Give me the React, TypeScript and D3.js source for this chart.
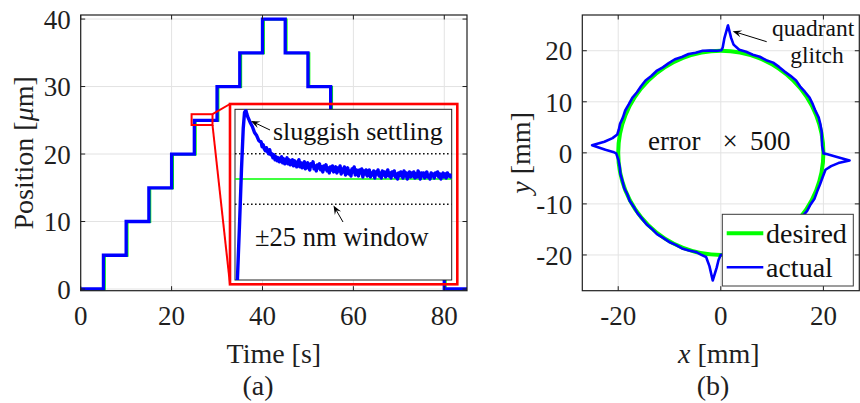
import React from "react";
import * as d3 from "d3";

// ---------- data: panel (a) ----------
const stepTimes = [0, 5, 10, 15, 20, 25, 30, 35, 40, 45, 50, 55, 60, 65, 70, 75, 80, 85];
const stepValues = [0, 5, 10, 15, 20, 25, 30, 35, 40, 35, 30, 25, 20, 15, 10, 5, 0, 0];
const xTicksA = [0, 20, 40, 60, 80];
const yTicksA = [0, 10, 20, 30, 40];
const zoomT = [24.4, 29.0];
const zoomY = [24.3, 25.9];

// inset: time (arb. units) and deviation from the 25 um set-point [nm]
const riseT = [1.1, 2.0, 3.0, 3.8, 4.4, 5.0, 5.5, 6, 7, 8, 9, 10, 11, 11.5];
const riseNm = [-100, -50, 10, 50, 66, 68, 64, 61, 56, 52, 46, 43, 38, 37];
// settling samples every 0.5 from t = 12 to t = 100
const settleStart = 12;
const settleStep = 0.5;
const settleNm = [
  37, 32, 34, 30, 28, 31, 27, 25, 29, 24,
  25, 21, 24, 19, 22, 18, 21, 17, 20, 22,
  16, 20, 15, 18, 21, 15, 19, 14, 17, 19,
  13, 18, 15, 12, 17, 19, 12, 16, 11, 15,
  17, 10, 14, 16, 11, 9, 15, 13, 17, 10,
  13, 8, 14, 11, 15, 9, 12, 7, 13, 10,
  14, 8, 11, 6, 12, 9, 13, 7, 10, 12,
  6, 11, 8, 13, 5, 10, 7, 12, 4, 9,
  11, 5, 8, 3, 10, 7, 12, 4, 9, 6,
  3, 9, 6, 10, 2, 8, 5, 9, 3, 7,
  9, 2, 6, 4, 8, 1, 7, 5, 9, 3,
  6, 1, 8, 4, 7, 2, 5, 9, 3, 6,
  1, 7, 4, 8, 2, 5, 0, 6, 3, 7,
  5, 1, 8, 3, 6, 0, 4, 7, 2, 6,
  3, 7, 1, 5, 2, 8, 4, 0, 6, 3,
  6, 1, 5, 7, 2, 4, 0, 6, 3, 5,
  1, 6, 4, 7, 2, 5, 0, 4, 6, 2,
  5, 1, 6, 3, 4, 2, 5,
];
const insetTDomain = [0, 100];
const insetNmDomain = [-100, 69];
const windowNm = [-25, 25];

// ---------- data: panel (b) ----------
const circleRadius = 20;
const actualAngles = [
  0.3, 4, 8, 12, 16, 20, 24, 28, 32, 36, 40, 44, 48, 52, 56, 60, 64, 68, 72, 76,
  79.9, 83.3, 84.9, 86.8, 88.2, 89.0, 89.7,
  92, 96, 100, 104, 108, 112, 116, 120, 124, 128, 132, 136, 140, 144, 148, 152, 156, 160, 164, 167,
  169.9, 172.2, 174.5, 176.6, 178.5, 179.5, 180.3,
  184, 188, 192, 196, 200, 204, 208, 212, 216, 220, 224, 228, 232, 236, 240, 244, 248, 252, 256,
  259, 262, 264.3, 266.4, 267.96, 268.8, 270,
  274, 278, 282, 286, 290, 294, 298, 302, 306, 310, 314, 318, 322, 326, 330, 334, 338, 342, 346,
  350.8, 353.1, 355.0, 356.6, 358.0, 359.2, 359.7, 360.3,
];
const actualRadii = [
  20.0, 19.8, 19.9, 20.1, 20.2, 20.3, 20.2, 20.3, 20.4, 20.3, 20.2, 20.4, 20.3, 20.2, 20.3, 20.4, 20.2, 20.3, 20.2, 20.4,
  20.5, 21.35, 22.6, 25.0, 22.5, 20.6, 20.1,
  20.0, 20.15, 20.3, 20.2, 20.35, 20.25, 20.4, 20.3, 20.2, 20.35, 20.25, 20.4, 20.3, 20.2, 20.35, 20.3, 20.4, 20.3, 20.45, 20.4,
  20.5, 21.3, 22.8, 25.14, 22.5, 21.0, 20.4,
  20.0, 19.9, 20.0, 19.95, 20.05, 19.95, 20.1, 20.0, 20.1, 20.05, 20.15, 20.05, 20.2, 20.1, 20.15, 20.05, 20.2, 20.1, 20.0,
  20.3, 20.6, 22.3, 25.05, 22.5, 21.0, 19.95,
  20.0, 20.1, 20.0, 20.15, 20.05, 20.2, 20.1, 20.2, 20.1, 20.25, 20.15, 20.3, 20.2, 20.3, 20.2, 20.35, 20.25, 20.3, 20.4,
  20.67, 21.66, 23.0, 25.15, 22.5, 20.8, 20.0, 20.0,
];
const xTicksB = [-20, 0, 20];
const xTickLabelsB = ["-20", "0", "20"];
const yTicksB = [-20, -10, 0, 10, 20];
const yTickLabelsB = ["-20", "-10", "0", "10", "20"];

// ---------- layout ----------
const W = 860, H = 403;
const FONT = "'Liberation Serif', 'Times New Roman', serif";
const TXT = "#1f1f1f";
const GRID = "#e3e3e3";
const A = { l: 80.7, r: 467, t: 15, b: 290.7 };
const B = { l: 582.3, r: 859.3, t: 15, b: 290.7 };
const INSET = { l: 235, r: 451.7, t: 109.3, b: 280 };
const REDBOX = { l: 230, r: 457.3, t: 104, b: 284.3 };

function Arrow({ x1, y1, x2, y2 }: { x1: number; y1: number; x2: number; y2: number }) {
  const ang = Math.atan2(y2 - y1, x2 - x1);
  const L = 9, hw = 3.6;
  const bx = x2 - L * Math.cos(ang), by = y2 - L * Math.sin(ang);
  const px = -Math.sin(ang) * hw, py = Math.cos(ang) * hw;
  const mx = x2 - 0.6 * L * Math.cos(ang), my = y2 - 0.6 * L * Math.sin(ang);
  return (
    <g>
      <line x1={x1} y1={y1} x2={mx} y2={my} stroke="#000" strokeWidth={1} />
      <path d={`M${x2},${y2} L${bx + px},${by + py} L${mx},${my} L${bx - px},${by - py} Z`} fill="#000" />
    </g>
  );
}

function Frame({ box, xs, ys, xTicks, yTicks, xLabels, yLabels }: any) {
  const tl = 4.5;
  return (
    <g>
      {xTicks.map((v: number, i: number) => (
        <g key={"x" + i}>
          <line x1={xs(v)} x2={xs(v)} y1={box.b} y2={box.b - tl} stroke={TXT} strokeWidth={1} />
          <line x1={xs(v)} x2={xs(v)} y1={box.t} y2={box.t + tl} stroke={TXT} strokeWidth={1} />
          <text x={xs(v)} y={box.b + 34.3} textAnchor="middle" fontSize={27} fill={TXT} fontFamily={FONT}>
            {xLabels[i]}
          </text>
        </g>
      ))}
      {yTicks.map((v: number, i: number) => (
        <g key={"y" + i}>
          <line x1={box.l} x2={box.l + tl} y1={ys(v)} y2={ys(v)} stroke={TXT} strokeWidth={1} />
          <line x1={box.r} x2={box.r - tl} y1={ys(v)} y2={ys(v)} stroke={TXT} strokeWidth={1} />
          <text x={box.l - 10} y={ys(v)} dy="0.36em" textAnchor="end" fontSize={27} fill={TXT} fontFamily={FONT}>
            {yLabels[i]}
          </text>
        </g>
      ))}
      <rect x={box.l} y={box.t} width={box.r - box.l} height={box.b - box.t} fill="none" stroke={TXT} strokeWidth={1.2} />
    </g>
  );
}

export default function App() {
  // panel (a)
  const xa = d3.scaleLinear().domain([0, 85]).range([A.l, A.r]);
  const ya = d3.scaleLinear().domain([-0.25, 40.6]).range([A.b, A.t]);
  const stepPath =
    d3
      .line<number>()
      .x((_, i) => xa(stepTimes[i]))
      .y((d) => ya(d))
      .curve(d3.curveStepAfter)(stepValues) || "";

  const xi = d3.scaleLinear().domain(insetTDomain).range([INSET.l, INSET.r]);
  const yi = d3.scaleLinear().domain(insetNmDomain).range([INSET.b, INSET.t]);
  const insetPts: [number, number][] = [
    ...riseT.map((t, i) => [t, riseNm[i]] as [number, number]),
    ...settleNm.map((v, i) => [settleStart + i * settleStep, v] as [number, number]),
  ];
  const insetPath =
    d3
      .line<[number, number]>()
      .x((d) => xi(d[0]))
      .y((d) => yi(d[1]))(insetPts) || "";

  const zx0 = xa(zoomT[0]), zx1 = xa(zoomT[1]);
  const zy0 = ya(zoomY[1]), zy1 = ya(zoomY[0]);

  // panel (b)
  const xb = d3.scaleLinear().domain([-27, 27]).range([B.l, B.r]);
  const yb = d3.scaleLinear().domain([-27, 27]).range([B.b, B.t]);
  const actualPath =
    d3
      .line<number>()
      .x((r, i) => xb(r * Math.cos((actualAngles[i] * Math.PI) / 180)))
      .y((r, i) => yb(r * Math.sin((actualAngles[i] * Math.PI) / 180)))
      .curve(d3.curveLinearClosed)(actualRadii) || "";

  return (
    <svg width={W} height={H} style={{ position: "absolute", left: 0, top: 0, background: "#fff" }} fontFamily={FONT}>
      <defs>
        <clipPath id="clipA">
          <rect x={A.l} y={A.t} width={A.r - A.l} height={A.b - A.t} />
        </clipPath>
        <clipPath id="clipI">
          <rect x={INSET.l} y={INSET.t} width={INSET.r - INSET.l} height={INSET.b - INSET.t} />
        </clipPath>
        <clipPath id="clipB">
          <rect x={B.l} y={B.t} width={B.r - B.l} height={B.b - B.t} />
        </clipPath>
      </defs>
      <rect x={0} y={0} width={W} height={H} fill="#fff" />

      {/* ===== panel (a) ===== */}
      <g>
        {xTicksA.map((v) => (
          <line key={"gx" + v} x1={xa(v)} x2={xa(v)} y1={A.t} y2={A.b} stroke={GRID} strokeWidth={1} />
        ))}
        {yTicksA.map((v) => (
          <line key={"gy" + v} x1={A.l} x2={A.r} y1={ya(v)} y2={ya(v)} stroke={GRID} strokeWidth={1} />
        ))}
        <g clipPath="url(#clipA)">
          <path d={stepPath} fill="none" stroke="#00ff00" strokeWidth={2} transform="translate(1.4,0.4)" />
          <path d={stepPath} fill="none" stroke="#0000ff" strokeWidth={3.3} />
        </g>
        {/* zoom indicator */}
        <rect x={zx0} y={zy0} width={zx1 - zx0} height={zy1 - zy0} fill="none" stroke="#ff0000" strokeWidth={2} />
        <line x1={zx1} y1={zy0} x2={REDBOX.l} y2={REDBOX.t} stroke="#ff0000" strokeWidth={2} />
        <line x1={zx1} y1={zy1} x2={REDBOX.l} y2={REDBOX.b} stroke="#ff0000" strokeWidth={2} />
        <rect x={REDBOX.l} y={REDBOX.t} width={REDBOX.r - REDBOX.l} height={REDBOX.b - REDBOX.t} fill="none" stroke="#ff0000" strokeWidth={2.6} />
        {/* inset axes */}
        <rect x={INSET.l} y={INSET.t} width={INSET.r - INSET.l} height={INSET.b - INSET.t} fill="#fff" stroke="#222" strokeWidth={1} />
        <g clipPath="url(#clipI)">
          {windowNm.map((v) => (
            <line key={"w" + v} x1={INSET.l} x2={INSET.r} y1={yi(v)} y2={yi(v)} stroke="#111" strokeWidth={1.6} strokeDasharray="1.6,2.4" />
          ))}
          <line x1={INSET.l} x2={INSET.r} y1={yi(0)} y2={yi(0)} stroke="#00ff00" strokeWidth={1.3} />
          <path d={insetPath} fill="none" stroke="#0000ff" strokeWidth={3.4} strokeLinejoin="round" />
        </g>
        <text x={273} y={139.5} fontSize={26} fill="#111">sluggish settling</text>
        <Arrow x1={270} y1={130} x2={251} y2={121} />
        <text x={255} y={246} fontSize={26.5} fill="#111">±25 nm window</text>
        <Arrow x1={343} y1={222} x2={333.5} y2={205.5} />

        <Frame
          box={A}
          xs={xa}
          ys={ya}
          xTicks={xTicksA}
          yTicks={yTicksA}
          xLabels={xTicksA.map(String)}
          yLabels={yTicksA.map(String)}
        />
        <text transform={`translate(33,${(A.t + A.b) / 2}) rotate(-90)`} textAnchor="middle" fontSize={28} fill={TXT}>
          Position [<tspan fontStyle="italic">μ</tspan>m]
        </text>
        <text x={(A.l + A.r) / 2} y={363} textAnchor="middle" fontSize={28} fill={TXT}>
          Time [s]
        </text>
        <text x={258} y={395} textAnchor="middle" fontSize={28} fill={TXT}>
          (a)
        </text>
      </g>

      {/* ===== panel (b) ===== */}
      <g>
        {xTicksB.map((v) => (
          <line key={"bgx" + v} x1={xb(v)} x2={xb(v)} y1={B.t} y2={B.b} stroke={GRID} strokeWidth={1} />
        ))}
        {yTicksB.map((v) => (
          <line key={"bgy" + v} x1={B.l} x2={B.r} y1={yb(v)} y2={yb(v)} stroke={GRID} strokeWidth={1} />
        ))}
        <g clipPath="url(#clipB)">
          <ellipse
            cx={xb(0)}
            cy={yb(0)}
            rx={xb(circleRadius) - xb(0)}
            ry={yb(0) - yb(circleRadius)}
            fill="none"
            stroke="#00ff00"
            strokeWidth={4}
          />
          <path d={actualPath} fill="none" stroke="#0000ff" strokeWidth={2.6} strokeLinejoin="round" />
        </g>
        <text x={648} y={150} fontSize={27} fill="#111">error</text>
        <text x={730} y={150} textAnchor="middle" fontSize={27} fill="#111">×</text>
        <text x={750} y={150} fontSize={27} fill="#111">500</text>
        <text x={772} y={35.7} fontSize={23.5} fill="#111">quadrant</text>
        <text x={817} y={63} textAnchor="middle" fontSize={23.5} fill="#111">glitch</text>
        <Arrow x1={766.7} y1={41.7} x2={732.7} y2={31.2} />

        {/* legend */}
        <rect x={722.3} y={214.3} width={131} height={71.7} fill="#fff" stroke="#3a3a3a" strokeWidth={1} />
        <line x1={726.7} x2={763.3} y1={233.3} y2={233.3} stroke="#00ff00" strokeWidth={4} />
        <text x={766} y={242.7} fontSize={28} fill="#111">desired</text>
        <line x1={726.7} x2={763.3} y1={267.3} y2={267.3} stroke="#0000ff" strokeWidth={2.6} />
        <text x={766} y={276.7} fontSize={28} fill="#111">actual</text>

        <Frame box={B} xs={xb} ys={yb} xTicks={xTicksB} yTicks={yTicksB} xLabels={xTickLabelsB} yLabels={yTickLabelsB} />
        <text transform={`translate(530,${(B.t + B.b) / 2}) rotate(-90)`} textAnchor="middle" fontSize={28} fill={TXT}>
          <tspan fontStyle="italic">y</tspan> [mm]
        </text>
        <text x={(B.l + B.r) / 2 - 2} y={363} textAnchor="middle" fontSize={28} fill={TXT}>
          <tspan fontStyle="italic">x</tspan> [mm]
        </text>
        <text x={713} y={395} textAnchor="middle" fontSize={28} fill={TXT}>
          (b)
        </text>
      </g>
    </svg>
  );
}
